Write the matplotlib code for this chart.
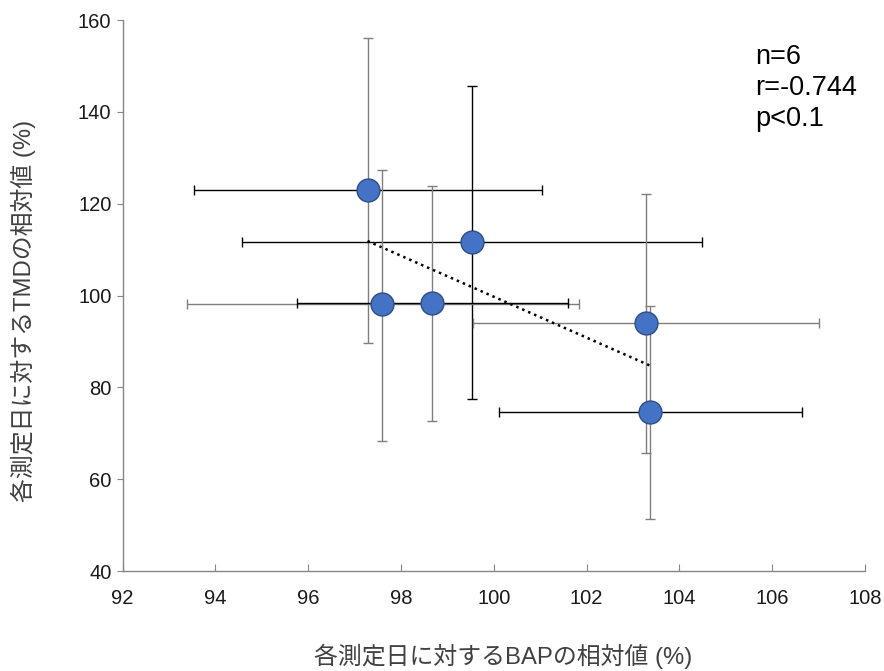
import numpy as np
import matplotlib
matplotlib.use('Agg')
import matplotlib.pyplot as plt

# BAP / TMD relative values (%) per measurement day, with min/max ranges
bap = [97.28, 99.53, 97.60, 98.66, 103.28, 103.37]
tmd = [123.0, 111.7, 98.1, 98.3, 94.0, 74.7]
bap_lo = [93.53, 94.58, 93.40, 95.75, 99.55, 100.12]
bap_hi = [101.05, 104.48, 101.83, 101.59, 107.01, 106.64]
tmd_lo = [89.6, 77.4, 68.4, 72.6, 65.6, 51.3]
tmd_hi = [156.2, 145.7, 127.4, 123.9, 122.2, 97.8]
xbar_col = ['#000000', '#000000', '#7f7f7f', '#000000', '#7f7f7f', '#000000']
ybar_col = ['#7f7f7f', '#000000', '#7f7f7f', '#7f7f7f', '#7f7f7f', '#7f7f7f']
stats_txt = 'n=6\nr=-0.744\np<0.1'

FONT = ['Liberation Sans', 'Noto Sans CJK JP']
plt.rcParams['font.family'] = FONT

fig = plt.figure(figsize=(8.84, 6.71), dpi=100)
ax = fig.add_axes([0.1386, 0.149, 0.8399, 0.821])

for i in range(len(bap)):
    ax.errorbar(bap[i], tmd[i], xerr=[[bap[i] - bap_lo[i]], [bap_hi[i] - bap[i]]],
                fmt='none', ecolor=xbar_col[i], elinewidth=1.0, capsize=3.5, capthick=1.0, zorder=2)
    ax.errorbar(bap[i], tmd[i], yerr=[[tmd[i] - tmd_lo[i]], [tmd_hi[i] - tmd[i]]],
                fmt='none', ecolor=ybar_col[i], elinewidth=1.0, capsize=3.5, capthick=1.0, zorder=2)

# linear trend over the observed BAP range
k, b = np.polyfit(bap, tmd, 1)
xs = np.array([min(bap), max(bap)])
ax.plot(xs, k * xs + b, color='black', ls=(0, (1, 1.6)), lw=1.8, zorder=3)

ax.plot(bap, tmd, 'o', ms=16.5, mfc='#4472c4', mec='#2f4f80', mew=1.0, ls='none', zorder=4)

ax.set_xlim(92, 108)
ax.set_ylim(40, 160)
ax.set_xticks(np.arange(92, 109, 2))
ax.set_yticks(np.arange(40, 161, 20))
for s in ['top', 'right']:
    ax.spines[s].set_visible(False)
for s in ['left', 'bottom']:
    ax.spines[s].set_color('#868686')
    ax.spines[s].set_linewidth(1.0)
ax.tick_params(axis='x', direction='in', length=5, color='#868686', labelsize=14.5,
               labelcolor='#1a1a1a', pad=13)
ax.tick_params(axis='y', direction='out', length=4.5, color='#868686', labelsize=14.5,
               labelcolor='#1a1a1a', pad=3.5)

ax.set_xlabel('各測定日に対するBAPの相対値 (%)', fontsize=17.2, color='#404040', labelpad=26)
ax.set_ylabel('各測定日に対するTMDの相対値 (%)', fontsize=17.2, color='#404040', labelpad=30)
ax.xaxis.label.set_x(0.513)
ax.yaxis.label.set_y(0.472)

fig.text(0.854, 0.935, stats_txt, fontsize=19.5, va='top', ha='left',
         linespacing=1.25, color='black')

fig.savefig('out.png', dpi=100)
